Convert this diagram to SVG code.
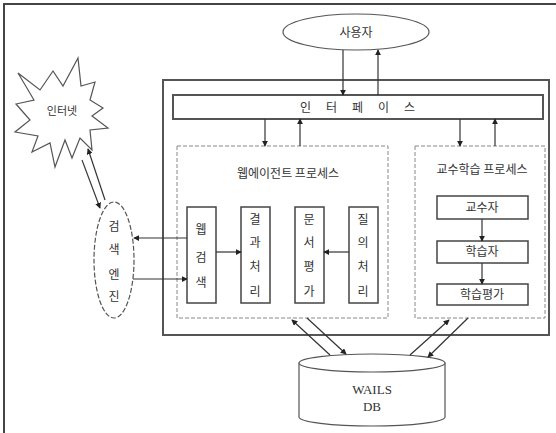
<svg xmlns="http://www.w3.org/2000/svg" width="556" height="433" viewBox="0 0 556 433">
<style>
.frame{fill:none;stroke:#444;stroke-width:2}
.main{fill:none;stroke:#555;stroke-width:2}
.bar{fill:#fff;stroke:#555;stroke-width:2}
.dash{fill:none;stroke:#888;stroke-width:1;stroke-dasharray:4 2}
.box{fill:#fff;stroke:#444;stroke-width:1.5}
.shape{fill:#fff;stroke:#555;stroke-width:1.2}
.dshape{fill:#fff;stroke:#555;stroke-width:1.2;stroke-dasharray:5 2}
.ln{fill:none;stroke:#333;stroke-width:1.2}
.t{font-family:"Noto Sans CJK KR","Noto Sans",sans-serif;font-size:12px;fill:#333;text-anchor:middle}
.s{font-family:"Liberation Serif",serif;font-size:13px;fill:#333;text-anchor:middle}
</style>
<defs>
<marker id="ah" viewBox="0 0 8 8" refX="7" refY="4" markerWidth="5" markerHeight="5" orient="auto">
<path d="M0,0 L8,4 L0,8 Z" fill="#222"/>
</marker>
</defs>
<rect width="556" height="433" fill="#fff"/>
<path class="frame" d="M4,433 V4 H556"/>

<g id="user">
<ellipse class="shape" cx="356" cy="32" rx="73" ry="18"/>
<text class="t" x="356" y="37">사용자</text>
</g>

<g id="system">
<rect class="main" x="163" y="80" width="386" height="255"/>
</g>

<g id="interface">
<rect class="bar" x="173" y="95" width="370" height="24"/>
<text class="t" x="365" y="112" style="letter-spacing:15px">인터페이스</text>
</g>

<g id="web-agent">
<rect class="dash" x="177" y="146" width="211" height="172"/>
<text class="t" x="288" y="178">웹에이전트 프로세스</text>
</g>

<g id="teach-learn">
<rect class="dash" x="415" y="146" width="130" height="172"/>
<text class="t" x="482" y="174">교수학습 프로세스</text>
</g>

<g id="web-search">
<rect class="box" x="187" y="207" width="29" height="96"/>
<text class="t" x="201" y="234">웹</text>
<text class="t" x="201" y="262">검</text>
<text class="t" x="201" y="287">색</text>
</g>

<g id="result">
<rect class="box" x="241" y="207" width="29" height="96"/>
<text class="t" x="255" y="224">결</text>
<text class="t" x="255" y="247">과</text>
<text class="t" x="255" y="271">처</text>
<text class="t" x="255" y="296">리</text>
</g>

<g id="doc-eval">
<rect class="box" x="295" y="207" width="29" height="96"/>
<text class="t" x="309" y="224">문</text>
<text class="t" x="309" y="247">서</text>
<text class="t" x="309" y="271">평</text>
<text class="t" x="309" y="296">가</text>
</g>

<g id="query">
<rect class="box" x="349" y="207" width="29" height="96"/>
<text class="t" x="363" y="224">질</text>
<text class="t" x="363" y="247">의</text>
<text class="t" x="363" y="271">처</text>
<text class="t" x="363" y="296">리</text>
</g>

<g id="professor">
<rect class="box" x="437" y="196" width="91" height="23"/>
<text class="t" x="482" y="212">교수자</text>
</g>

<g id="learner">
<rect class="box" x="437" y="241" width="91" height="22"/>
<text class="t" x="482" y="256">학습자</text>
</g>

<g id="learn-eval">
<rect class="box" x="437" y="284" width="91" height="21"/>
<text class="t" x="482" y="299">학습평가</text>
</g>

<g id="search-engine">
<ellipse class="dshape" cx="114" cy="260" rx="20" ry="58"/>
<text class="t" x="114" y="231">검</text>
<text class="t" x="114" y="254">색</text>
<text class="t" x="114" y="279">엔</text>
<text class="t" x="114" y="301">진</text>
</g>

<g id="internet">
<polygon class="shape" points="18,73 40,90 53,71 63,86 78,58 81,86 95,82 90,100 103,108 92,116 108,128 90,130 92,150 80,138 72,158 65,140 55,167 50,143 32,152 38,136 15,132 30,120 16,104 34,100"/>
<text class="t" x="62" y="115" style="font-size:11px">인터넷</text>
</g>

<g id="db">
<path class="shape" d="M299,363 V417 A73,9 0 0 0 445,417 V363"/>
<ellipse class="shape" cx="372" cy="363" rx="73" ry="9"/>
<text class="s" x="372" y="394">WAILS</text>
<text class="s" x="372" y="411">DB</text>
</g>

<g id="connectors">
<line class="ln" x1="343" y1="50" x2="343" y2="95" marker-end="url(#ah)"/>
<line class="ln" x1="378" y1="95" x2="378" y2="50" marker-end="url(#ah)"/>
<line class="ln" x1="265" y1="119" x2="265" y2="146" marker-end="url(#ah)"/>
<line class="ln" x1="300" y1="146" x2="300" y2="119" marker-end="url(#ah)"/>
<line class="ln" x1="460" y1="119" x2="460" y2="146" marker-end="url(#ah)"/>
<line class="ln" x1="495" y1="146" x2="495" y2="119" marker-end="url(#ah)"/>
<line class="ln" x1="216" y1="252" x2="241" y2="252" marker-end="url(#ah)"/>
<line class="ln" x1="349" y1="252" x2="324" y2="252" marker-end="url(#ah)"/>
<line class="ln" x1="482" y1="219" x2="482" y2="241" marker-end="url(#ah)"/>
<line class="ln" x1="482" y1="263" x2="482" y2="284" marker-end="url(#ah)"/>
<line class="ln" x1="187" y1="238" x2="134" y2="238" marker-end="url(#ah)"/>
<line class="ln" x1="133" y1="279" x2="187" y2="279" marker-end="url(#ah)"/>
<line class="ln" x1="82" y1="160" x2="100" y2="208" marker-end="url(#ah)"/>
<line class="ln" x1="105" y1="200" x2="88" y2="149" marker-end="url(#ah)"/>
<line class="ln" x1="330" y1="355" x2="292" y2="320" marker-end="url(#ah)"/>
<line class="ln" x1="307" y1="318" x2="346" y2="354" marker-end="url(#ah)"/>
<line class="ln" x1="410" y1="355" x2="449" y2="320" marker-end="url(#ah)"/>
<line class="ln" x1="468" y1="318" x2="428" y2="357" marker-end="url(#ah)"/>
</g>
</svg>
